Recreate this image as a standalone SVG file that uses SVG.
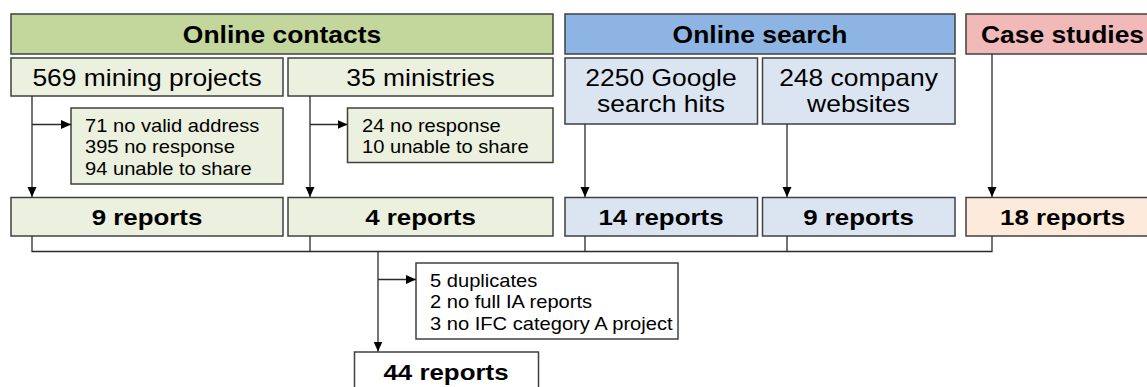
<svg xmlns="http://www.w3.org/2000/svg" width="1147" height="387" viewBox="0 0 1147 387">
  <defs>
    <marker id="arr" viewBox="0 0 10 10" refX="10" refY="5" markerWidth="10" markerHeight="10" markerUnits="userSpaceOnUse" orient="auto">
      <path d="M0,0.5 L10,5 L0,9.5 Z" fill="#000"/>
    </marker>
    <style>
      rect { stroke: #404040; stroke-width: 1.5; }
      .hdC { fill: #c3d69b; }
      .hdS { fill: #8db4e2; }
      .hdK { fill: #f2b9b9; }
      .g { fill: #ebf1de; }
      .b { fill: #dbe5f1; }
      .p { fill: #fdeada; }
      .w { fill: #ffffff; }
      text { font-family: "Liberation Sans", Arial, sans-serif; fill: #000; }
      .h { font-size: 23px; font-weight: bold; text-anchor: middle; }
      .m { font-size: 23px; text-anchor: middle; }
      .r { font-size: 22.5px; font-weight: bold; text-anchor: middle; }
      .x { font-size: 17.5px; }
      .ln { fill: none; stroke: #2a2a2a; stroke-width: 1.3; }
    </style>
  </defs>

  <!-- column headers -->
  <g id="hdr-contacts">
    <rect class="hdC" x="11" y="14" width="542" height="40"/>
    <text class="h" transform="translate(282,43) scale(1.15,1)">Online contacts</text>
  </g>
  <g id="hdr-search">
    <rect class="hdS" x="565" y="14" width="390" height="40"/>
    <text class="h" transform="translate(760,43) scale(1.15,1)">Online search</text>
  </g>
  <g id="hdr-case">
    <rect class="hdK" x="966" y="14" width="200" height="40"/>
    <text class="h" style="text-anchor:start" transform="translate(981,43) scale(1.15,1)">Case studies</text>
  </g>

  <!-- sources -->
  <g id="src-mining">
    <rect class="g" x="11" y="58" width="272" height="38"/>
    <text class="m" transform="translate(147,86) scale(1.15,1)">569 mining projects</text>
  </g>
  <g id="src-ministries">
    <rect class="g" x="288" y="58" width="265" height="38"/>
    <text class="m" transform="translate(420.5,86) scale(1.15,1)">35 ministries</text>
  </g>
  <g id="src-google">
    <rect class="b" x="565" y="58" width="192.5" height="66"/>
    <text class="m" transform="translate(661,86) scale(1.15,1)">2250 Google</text>
    <text class="m" transform="translate(661,112) scale(1.15,1)">search hits</text>
  </g>
  <g id="src-websites">
    <rect class="b" x="762.5" y="58" width="192.5" height="66"/>
    <text class="m" transform="translate(858.5,86) scale(1.15,1)">248 company</text>
    <text class="m" transform="translate(858.5,112) scale(1.15,1)">websites</text>
  </g>

  <!-- exclusions -->
  <g id="excl-mining">
    <rect class="g" x="71" y="108" width="212" height="76"/>
    <text class="x" transform="translate(85,131.5) scale(1.15,1)">71 no valid address</text>
    <text class="x" transform="translate(85,153) scale(1.15,1)">395 no response</text>
    <text class="x" transform="translate(85,174.5) scale(1.15,1)">94 unable to share</text>
  </g>
  <g id="excl-ministries">
    <rect class="g" x="347.5" y="108" width="205.5" height="54.5"/>
    <text class="x" transform="translate(362,131.5) scale(1.15,1)">24 no response</text>
    <text class="x" transform="translate(362,153) scale(1.15,1)">10 unable to share</text>
  </g>

  <!-- report counts -->
  <g id="rep-mining">
    <rect class="g" x="11" y="197.5" width="272" height="38.5"/>
    <text class="r" transform="translate(147,224.5) scale(1.15,1)">9 reports</text>
  </g>
  <g id="rep-ministries">
    <rect class="g" x="288" y="197.5" width="265" height="38.5"/>
    <text class="r" transform="translate(420.5,224.5) scale(1.15,1)">4 reports</text>
  </g>
  <g id="rep-google">
    <rect class="b" x="565" y="197.5" width="192.5" height="38.5"/>
    <text class="r" transform="translate(661,224.5) scale(1.15,1)">14 reports</text>
  </g>
  <g id="rep-websites">
    <rect class="b" x="762.5" y="197.5" width="192.5" height="38.5"/>
    <text class="r" transform="translate(858.5,224.5) scale(1.15,1)">9 reports</text>
  </g>
  <g id="rep-case">
    <rect class="p" x="966" y="197.5" width="200" height="38.5"/>
    <text class="r" style="text-anchor:start" transform="translate(1000,224.5) scale(1.15,1)">18 reports</text>
  </g>

  <!-- final screening -->
  <g id="excl-final">
    <rect class="w" x="416" y="263" width="262" height="76"/>
    <text class="x" transform="translate(430,286.5) scale(1.15,1)">5 duplicates</text>
    <text class="x" transform="translate(430,308) scale(1.15,1)">2 no full IA reports</text>
    <text class="x" transform="translate(430,329.5) scale(1.15,1)">3 no IFC category A project</text>
  </g>
  <g id="rep-total">
    <rect class="w" x="354.5" y="352" width="184" height="45"/>
    <text class="r" transform="translate(446,380) scale(1.15,1)">44 reports</text>
  </g>

  <!-- connectors -->
  <g id="connectors">
    <line class="ln" x1="32" y1="96" x2="32" y2="197" marker-end="url(#arr)"/>
    <line class="ln" x1="32" y1="124.5" x2="71" y2="124.5" marker-end="url(#arr)"/>
    <line class="ln" x1="310" y1="96" x2="310" y2="197" marker-end="url(#arr)"/>
    <line class="ln" x1="310" y1="124.5" x2="347.5" y2="124.5" marker-end="url(#arr)"/>
    <line class="ln" x1="585" y1="124" x2="585" y2="197" marker-end="url(#arr)"/>
    <line class="ln" x1="787" y1="124" x2="787" y2="197" marker-end="url(#arr)"/>
    <line class="ln" x1="992" y1="54" x2="992" y2="197" marker-end="url(#arr)"/>
    <!-- merge bus -->
    <path class="ln" d="M32,236 V251.5 H992 V236 M310,236 V251.5 M585,236 V251.5 M787,236 V251.5"/>
    <line class="ln" x1="378" y1="251.5" x2="378" y2="351.5" marker-end="url(#arr)"/>
    <line class="ln" x1="378" y1="279.5" x2="416" y2="279.5" marker-end="url(#arr)"/>
  </g>
</svg>
